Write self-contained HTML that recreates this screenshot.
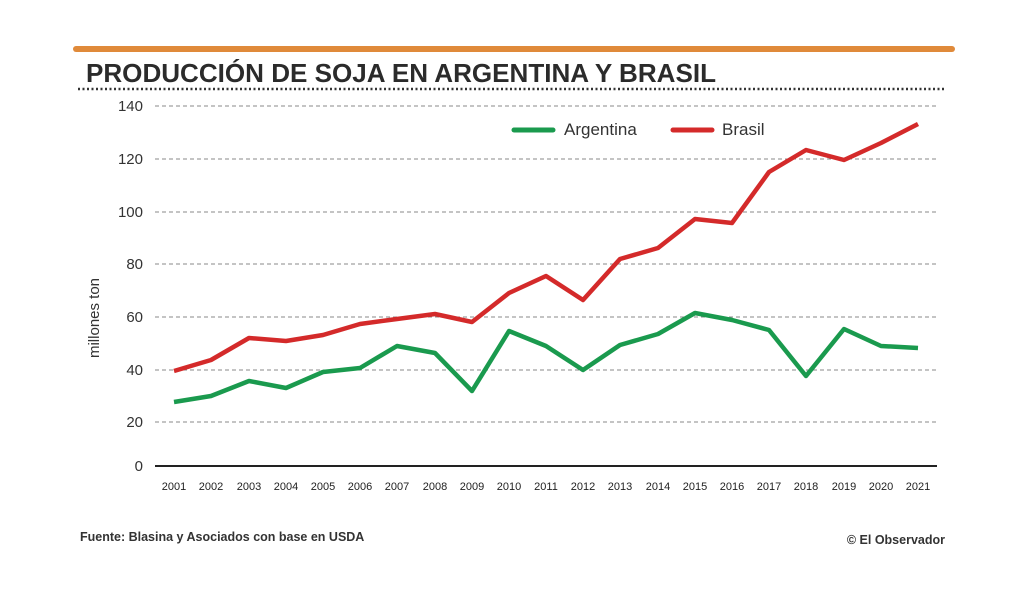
<!DOCTYPE html>
<html><head><meta charset="utf-8"><style>
body{margin:0;background:#fff;}
svg{display:block;font-family:"Liberation Sans",sans-serif;}
</style></head><body>
<svg width="1024" height="597" viewBox="0 0 1024 597" xmlns="http://www.w3.org/2000/svg">
<rect width="1024" height="597" fill="#fff"/>
<line x1="76" y1="49" x2="952" y2="49" stroke="#e08a3a" stroke-width="6" stroke-linecap="round"/>
<text x="86" y="82" font-size="26" font-weight="bold" fill="#2b2b2b" textLength="630" lengthAdjust="spacingAndGlyphs">PRODUCCIÓN DE SOJA EN ARGENTINA Y BRASIL</text>
<line x1="78" y1="89" x2="946" y2="89" stroke="#333" stroke-width="2.5" stroke-dasharray="2,2.5"/>
<g stroke="#888" stroke-width="1" stroke-dasharray="4,3">
<line x1="155" y1="106" x2="937" y2="106"/>
<line x1="155" y1="159" x2="937" y2="159"/>
<line x1="155" y1="212" x2="937" y2="212"/>
<line x1="155" y1="264" x2="937" y2="264"/>
<line x1="155" y1="317" x2="937" y2="317"/>
<line x1="155" y1="370" x2="937" y2="370"/>
<line x1="155" y1="422" x2="937" y2="422"/>
</g>
<line x1="155" y1="466" x2="937" y2="466" stroke="#222" stroke-width="2"/>
<g font-size="15" fill="#333" text-anchor="end">
<text x="143" y="111">140</text><text x="143" y="164">120</text><text x="143" y="217">100</text>
<text x="143" y="269">80</text><text x="143" y="322">60</text><text x="143" y="375">40</text>
<text x="143" y="427">20</text><text x="143" y="471">0</text>
</g>
<text transform="translate(99,318) rotate(-90)" font-size="15" fill="#333" text-anchor="middle">millones ton</text>
<g font-size="11" fill="#222" text-anchor="middle">
<text x="174" y="490">2001</text><text x="211" y="490">2002</text><text x="249" y="490">2003</text><text x="286" y="490">2004</text><text x="323" y="490">2005</text><text x="360" y="490">2006</text><text x="397" y="490">2007</text><text x="435" y="490">2008</text><text x="472" y="490">2009</text><text x="509" y="490">2010</text><text x="546" y="490">2011</text><text x="583" y="490">2012</text><text x="620" y="490">2013</text><text x="658" y="490">2014</text><text x="695" y="490">2015</text><text x="732" y="490">2016</text><text x="769" y="490">2017</text><text x="806" y="490">2018</text><text x="844" y="490">2019</text><text x="881" y="490">2020</text><text x="918" y="490">2021</text>
</g>
<polyline fill="none" stroke="#1a9a4e" stroke-width="4.5" stroke-linejoin="round" points="174,402 211,396 249,381 286,388 323,372 360,368 397,346 435,353 472,391 509,331 546,346 583,370 620,345 658,334 695,313 732,320 769,330 806,376 844,329 881,346 918,348"/>
<polyline fill="none" stroke="#d42a2a" stroke-width="4.5" stroke-linejoin="round" points="174,371 211,360 249,338 286,341 323,335 360,324 397,319 435,314 472,322 509,293 546,276 583,300 620,259 658,248 695,219 732,223 769,172 806,150 844,160 881,143 918,124"/>
<line x1="514" y1="130" x2="553" y2="130" stroke="#1a9a4e" stroke-width="5" stroke-linecap="round"/>
<text x="564" y="135" font-size="17" fill="#333">Argentina</text>
<line x1="673" y1="130" x2="712" y2="130" stroke="#d42a2a" stroke-width="5" stroke-linecap="round"/>
<text x="722" y="135" font-size="17" fill="#333">Brasil</text>
<text x="80" y="541" font-size="12.5" font-weight="bold" fill="#333">Fuente: Blasina y Asociados con base en USDA</text>
<text x="945" y="544" font-size="12.5" font-weight="bold" fill="#333" text-anchor="end">© El Observador</text>
</svg>
</body></html>
